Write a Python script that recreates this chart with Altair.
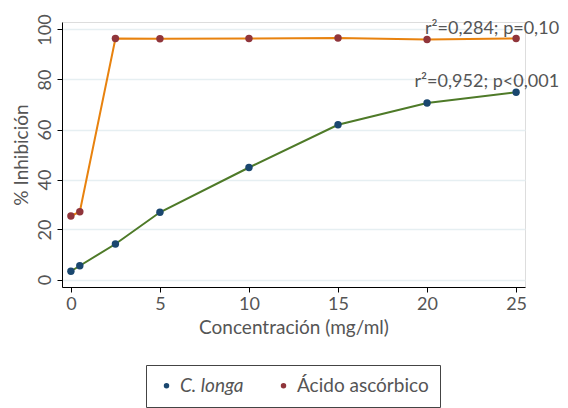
import altair as alt
import pandas as pd

conc = [0, 0.5, 2.5, 5, 10, 15, 20, 25]
c_longa = [3.3, 5.5, 14.2, 26.9, 44.8, 61.9, 70.6, 74.9]
ascorbico = [25.4, 27.1, 96.4, 96.3, 96.4, 96.6, 96.0, 96.4]
series = ["C. longa", "Ácido ascórbico"]
point_colors = ["#1a476f", "#90353b"]
line_colors = ["#4e7a28", "#e8820e"]

ann_text = ["r²=0,284; p=0,10", "r²=0,952; p<0,001"]
ann_x = [25, 25]
ann_y = [96.4, 74.9]

rows = []
for c, v in zip(conc, c_longa):
    rows.append({"conc": c, "val": v, "serie": series[0]})
for c, v in zip(conc, ascorbico):
    rows.append({"conc": c, "val": v, "serie": series[1]})
df = pd.DataFrame(rows)
ann = pd.DataFrame({"x": ann_x, "y": ann_y, "t": ann_text})

FONT = "Lato"
GRAY = "#555555"

xs = alt.Scale(domain=[-0.5, 25.5], nice=False, zero=False)
ys = alt.Scale(domain=[-3, 103], nice=False, zero=False)

xax = alt.Axis(values=[0, 5, 10, 15, 20, 25], title="Concentración (mg/ml)", grid=False,
               domainColor="black", tickColor="black", tickSize=5, labelFontSize=18,
               titleFontSize=19, labelColor=GRAY, titleColor=GRAY, labelFont=FONT,
               titleFont=FONT, titleFontWeight="normal", labelPadding=3, titlePadding=5)
yax = alt.Axis(values=[0, 20, 40, 60, 80, 100], title="% Inhibición", grid=True,
               gridColor="#e6eff2", gridWidth=1.5, domainColor="black", tickColor="black",
               tickSize=5, labelFontSize=18, titleFontSize=19, labelColor=GRAY,
               titleColor=GRAY, labelFont=FONT, titleFont=FONT, titleFontWeight="normal",
               labelAngle=270, labelAlign="center", labelBaseline="bottom", labelPadding=3,
               titlePadding=5)

base = alt.Chart(df)

line_layers = []
for i, s in enumerate(series):
    line_layers.append(
        base.transform_filter(alt.datum.serie == s).mark_line(strokeWidth=2, color=line_colors[i]).encode(
            x=alt.X("conc:Q", scale=xs, axis=xax),
            y=alt.Y("val:Q", scale=ys, axis=yax),
        )
    )

points = base.mark_circle(size=55, opacity=1).encode(
    x=alt.X("conc:Q", scale=xs),
    y=alt.Y("val:Q", scale=ys),
    fill=alt.Fill("serie:N", scale=alt.Scale(domain=series, range=point_colors),
                  legend=alt.Legend(title=None, orient="none", legendX=84, legendY=343,
                                    direction="horizontal",
                                    symbolType="circle", symbolSize=30, labelFontSize=19,
                                    labelFont=FONT, labelColor=GRAY,
                                    labelFontStyle=alt.ExprRef("datum.label == 'C. longa' ? 'italic' : 'normal'"),
                                    strokeColor="#444", padding=11, columnPadding=30,
                                    symbolStrokeWidth=0)),
)

text = alt.Chart(ann).mark_text(font=FONT, fontSize=18, color=GRAY, align="right",
                                baseline="bottom", dx=43, dy=-1).encode(
    x=alt.X("x:Q", scale=xs),
    y=alt.Y("y:Q", scale=ys),
    text="t:N",
)

chart = alt.layer(*line_layers, points, text).properties(
    width=463, height=265,
    padding={"left": 4, "top": 5, "right": 0, "bottom": 0},
).configure_view(stroke=None).configure(background="white")

chart.save("out.html", embed_options={"renderer": "svg", "actions": False})
